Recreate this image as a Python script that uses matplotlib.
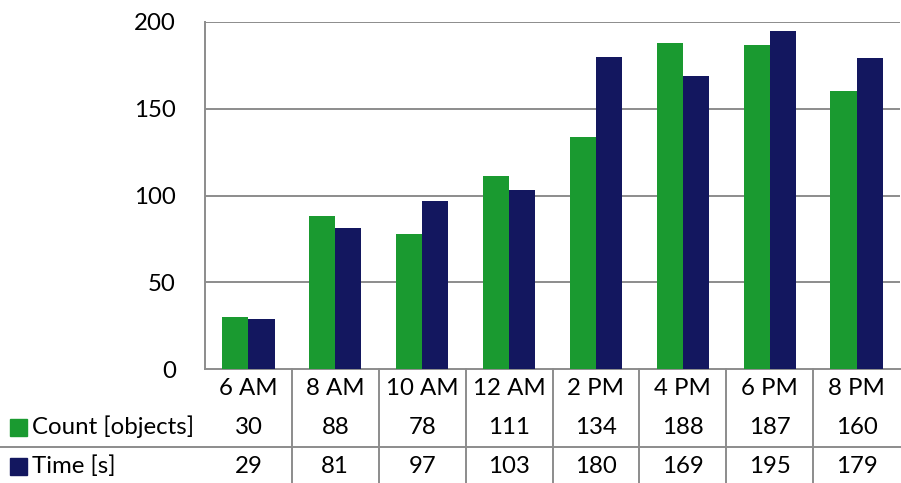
import matplotlib
matplotlib.use("Agg")
import matplotlib.pyplot as plt
from matplotlib.patches import Rectangle
import numpy as np

categories = ["6 AM", "8 AM", "10 AM", "12 AM", "2 PM", "4 PM", "6 PM", "8 PM"]
count_objects = [30, 88, 78, 111, 134, 188, 187, 160]
time_s = [29, 81, 97, 103, 180, 169, 195, 179]
series_names = ["Count [objects]", "Time [s]"]
y_ticks = [0, 50, 100, 150, 200]

GREEN = "#1a9a30"
NAVY = "#13175f"
GRID = "#8c8c8c"
FONT = "Lato"
FS = 17.3

W, H = 901, 483
fig = plt.figure(figsize=(W / 100, H / 100), dpi=100)

# plot area in pixel coordinates
x0, x1 = 205, 900
y_top, y_base = 22, 369

ax = fig.add_axes([x0 / W, (H - y_base) / H, (x1 - x0) / W, (y_base - y_top) / H])
n = len(categories)
xc = np.arange(n) + 0.5
bw = 0.3
ax.bar(xc - bw / 2, count_objects, bw, color=GREEN, zorder=3)
ax.bar(xc + bw / 2, time_s, bw, color=NAVY, zorder=3)
ax.set_xlim(0, n)
ax.set_ylim(0, 200)
ax.set_yticks(y_ticks)
ax.set_yticklabels([str(t) for t in y_ticks], fontfamily=FONT, fontsize=FS)
ax.tick_params(axis="y", length=0, pad=21)
ax.set_xticks([])
for t in y_ticks[1:]:
    ax.axhline(t, color=GRID, lw=1.4, zorder=1)
for side in ["top", "right"]:
    ax.spines[side].set_visible(False)
for side in ["left", "bottom"]:
    ax.spines[side].set_color(GRID)
    ax.spines[side].set_linewidth(1.4)

# data table beneath the plot
tab = fig.add_axes([x0 / W, 0, (x1 - x0) / W, (H - y_base) / H])
tab.set_xlim(0, n)
tab.set_ylim(H, y_base)
tab.axis("off")

row_y = [388, 427, 466]
for i, cat in enumerate(categories):
    tab.text(xc[i], row_y[0], cat, ha="center", va="center", fontfamily=FONT, fontsize=FS)
    tab.text(xc[i], row_y[1], str(count_objects[i]), ha="center", va="center", fontfamily=FONT, fontsize=FS)
    tab.text(xc[i], row_y[2], str(time_s[i]), ha="center", va="center", fontfamily=FONT, fontsize=FS)

for i in range(1, n):
    tab.plot([i, i], [y_base, H], color=GRID, lw=1.4, clip_on=False)

px = (x1 - x0) / n  # pixels per category
def to_data(xpix):
    return (xpix - x0) / px

tab.plot([to_data(0), n], [447, 447], color=GRID, lw=1.4, clip_on=False)

for color, name, yy in zip([GREEN, NAVY], series_names, row_y[1:]):
    tab.add_patch(Rectangle((to_data(10), yy - 8.5), 17 / px, 17, color=color, clip_on=False))
    tab.text(to_data(32), yy, name, ha="left", va="center", fontfamily=FONT, fontsize=FS)

fig.savefig("out.png", dpi=100)
